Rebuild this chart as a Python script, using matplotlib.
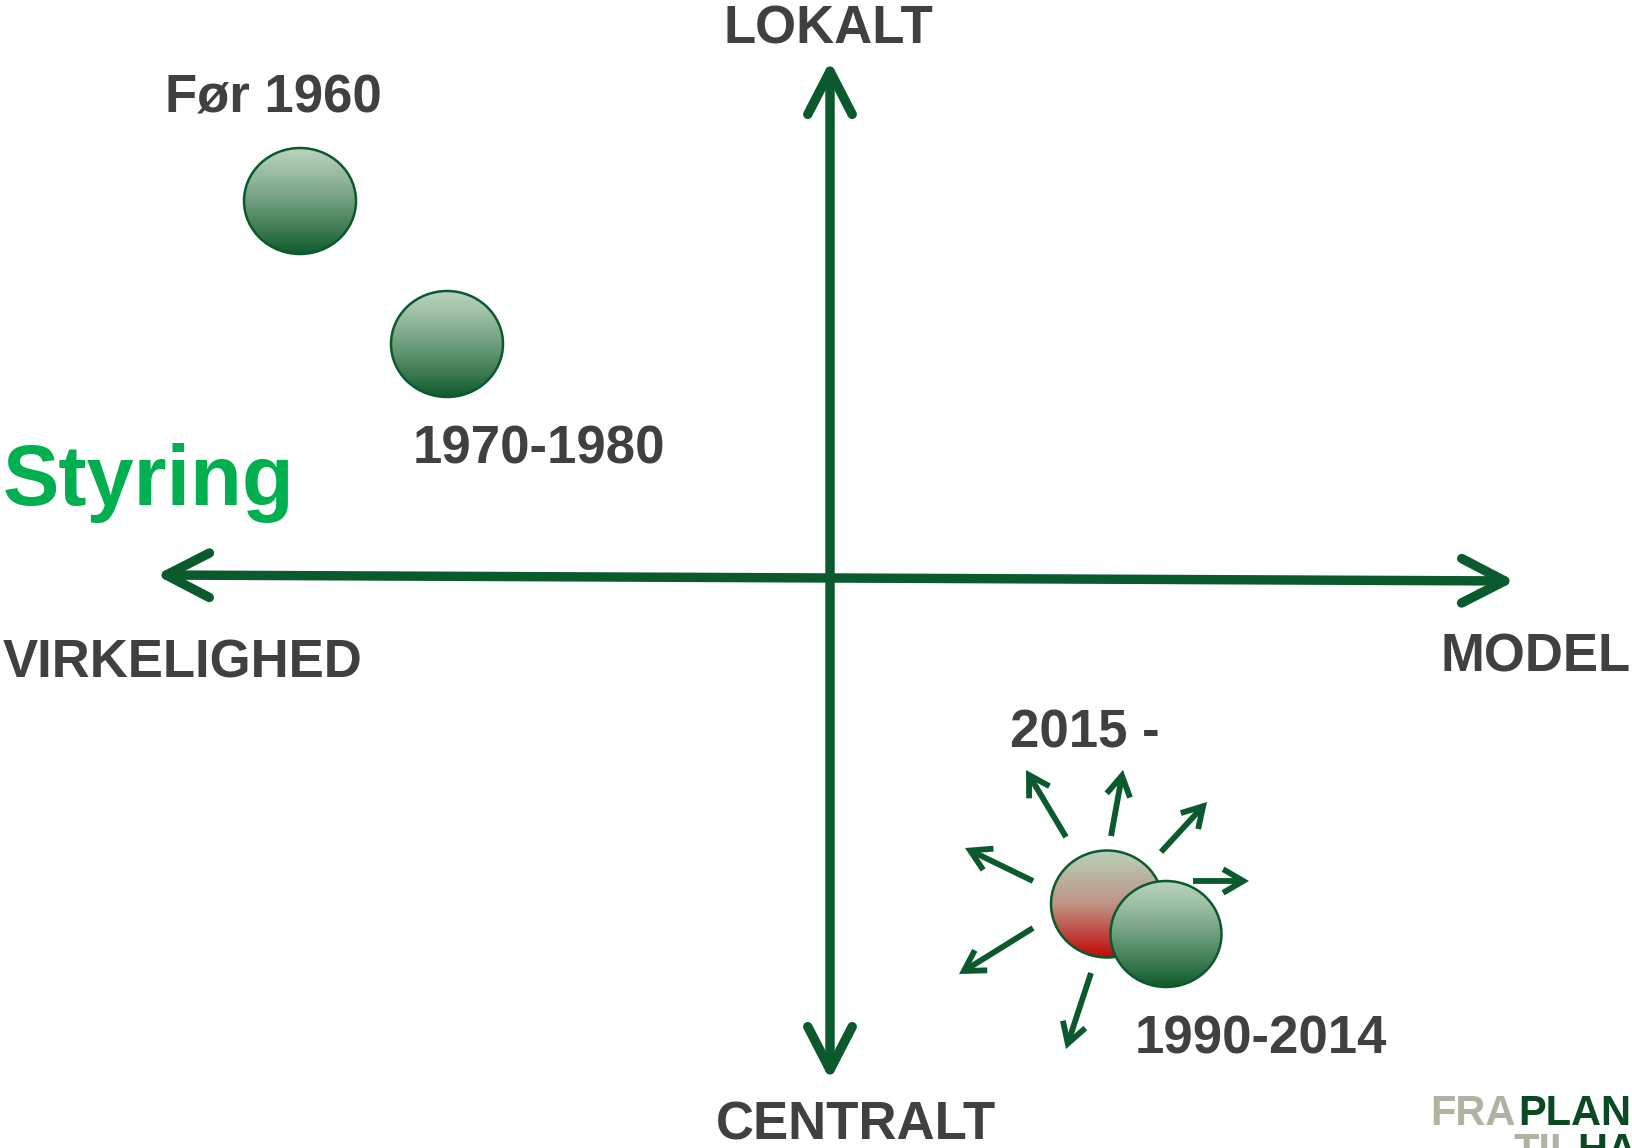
import numpy as np
import matplotlib
matplotlib.use("Agg")
import matplotlib.pyplot as plt
from matplotlib.patches import Ellipse, FancyArrowPatch
from matplotlib.colors import to_rgb

# ── Data (pixel coordinates of the 1632x1148 canvas, y goes down) ────────────
akse_h = [(156, 575), (1515, 581)]          # VIRKELIGHED <-> MODEL
akse_v = [(830, 61), (830, 1080)]           # LOKALT <-> CENTRALT

perioder = ["Før 1960", "1970-1980", "2015 -", "1990-2014"]
cirkel_x = [300, 447, 1107, 1166]
cirkel_y = [201, 344, 904, 934]
cirkel_w = [112, 112, 112, 111]
cirkel_h = [106, 106, 107, 106]
cirkel_bund = ["#0F5A2C", "#0F5A2C", "#C10A0A", "#0F5A2C"]

label_x = [165, 413, 1010, 1135]
label_y = [112, 464, 748, 1054]

# small arrows around "2015 -": (tail, tip)
spred_hale = [(1066, 837), (1111, 836), (1161, 852), (1193, 881),
              (1033, 881), (1033, 928), (1091, 973)]
spred_spids = [(1026, 770), (1123, 770), (1207, 802), (1249, 881),
               (965, 848), (959, 974), (1066, 1049)]

akse_tekst = ["LOKALT", "CENTRALT", "VIRKELIGHED", "MODEL"]
akse_tekst_xy = [(828, 43), (716, 1140), (3, 678), (1441, 672)]
akse_tekst_ha = ["center", "left", "left", "left"]

GRON = "#0B5A2D"
GRA = "#404040"
LYS = "#B7D2BB"

fig = plt.figure(figsize=(16.32, 11.48), dpi=100)
ax = fig.add_axes([0, 0, 1, 1])
ax.set_xlim(0, 1632)
ax.set_ylim(1148, 0)
ax.axis("off")
plt.rcParams["font.family"] = ["Liberation Sans", "DejaVu Sans"]


def gradient(top, bund, n=256, midt=None):
    t = np.linspace(0, 1, n)[:, None]
    a, b = np.array(to_rgb(top)), np.array(to_rgb(bund))
    if midt is None:
        g = a + (b - a) * t ** 1.2
    else:
        m = np.array(to_rgb(midt))
        g = np.where(t < 0.5, a + (m - a) * (t / 0.5), m + (b - m) * ((t - 0.5) / 0.5))
    return g[:, None, :]


# ── Main axes (double headed arrows) ─────────────────────────────────────────
for (p0, p1) in [akse_h, akse_v]:
    arr = FancyArrowPatch(p0, p1, arrowstyle="<->,head_length=3.1,head_width=1.6",
                          mutation_scale=10, lw=6.8, color=GRON,
                          shrinkA=0, shrinkB=0, capstyle="round", joinstyle="round")
    ax.add_patch(arr)

# ── Circles with vertical gradient ───────────────────────────────────────────
for i in range(len(perioder)):
    cx, cy, w, h = cirkel_x[i], cirkel_y[i], cirkel_w[i], cirkel_h[i]
    midt = "#BE9484" if cirkel_bund[i] == "#C10A0A" else None
    img = ax.imshow(gradient(LYS, cirkel_bund[i], midt=midt),
                    extent=(cx - w / 2, cx + w / 2, cy + h / 2, cy - h / 2),
                    aspect="auto", zorder=3 + i)
    el = Ellipse((cx, cy), w, h, facecolor="none", edgecolor=GRON, lw=1.8, zorder=3 + i)
    ax.add_patch(el)
    img.set_clip_path(el)
    ax.text(label_x[i], label_y[i], perioder[i], fontsize=38, fontweight="bold",
            color=GRA, ha="left", va="baseline")

# ── Spreading arrows ─────────────────────────────────────────────────────────
for hale, spids in zip(spred_hale, spred_spids):
    ax.add_patch(FancyArrowPatch(hale, spids, arrowstyle="->,head_length=1.45,head_width=0.85",
                                 mutation_scale=10, lw=4.2, color=GRON,
                                 shrinkA=0, shrinkB=0, capstyle="butt", joinstyle="miter"))

# ── Axis labels ──────────────────────────────────────────────────────────────
for txt, (x, y), ha in zip(akse_tekst, akse_tekst_xy, akse_tekst_ha):
    ax.text(x, y, txt, fontsize=38, fontweight="bold", color=GRA, ha=ha, va="baseline")

ax.text(3, 505, "Styring", fontsize=61, fontweight="bold", color="#00B050",
        ha="left", va="baseline")

# ── Logo, cut at the corner as in the original slide ─────────────────────────
ax.text(1430, 1125, "FRA", fontsize=30, fontweight="bold", color="#B1B2A2", va="baseline")
ax.text(1518, 1125, "PLAN", fontsize=30, fontweight="bold", color="#0A4A22", va="baseline")
ax.text(1513, 1163, "TIL", fontsize=30, fontweight="bold", color="#B1B2A2", va="baseline")
ax.text(1577, 1163, "HANDLING", fontsize=30, fontweight="bold", color="#0A4A22", va="baseline")

fig.savefig("out.png", dpi=100, facecolor="white")
